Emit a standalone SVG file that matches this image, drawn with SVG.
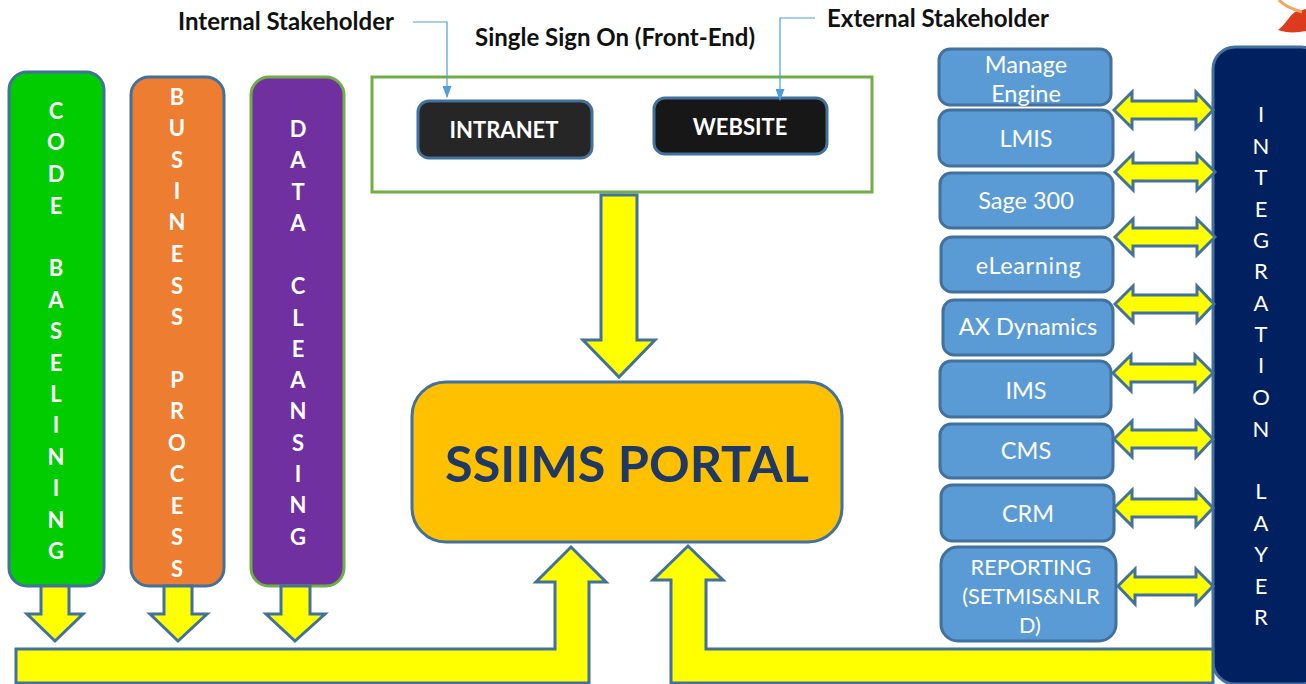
<svg xmlns="http://www.w3.org/2000/svg" width="1306" height="684" viewBox="0 0 1306 684">
<style>
text{font-family:Lato,"Liberation Sans",sans-serif;text-anchor:middle}
.v{font-size:22px;fill:#fff}
.vb{font-size:22px;fill:#fff;font-weight:700}
.n{stroke:#41719C;stroke-width:3}
.blue{fill:#5B9BD5}
.t{font-size:23.5px;fill:#fff}
.r{font-size:21.7px;fill:#fff}
.a{fill:#FFFF00;stroke:#41719C;stroke-width:3;stroke-linejoin:miter}
.s{font-size:24px;font-weight:700;fill:#111}
.l{fill:none;stroke:#4E9DE0;stroke-width:1.2}
.b{font-size:22px;font-weight:700;fill:#fff}
</style>
<defs><marker id="ah" markerWidth="12" markerHeight="9" refX="11" refY="4.5" orient="auto" markerUnits="userSpaceOnUse"><path d="M0 0L12 4.5L0 9z" fill="#4E9DE0"/></marker></defs>
<g id="flame"><path d="M1278 30C1285 25 1289 16 1295 12L1306 9V31C1296 33 1286 33 1278 30Z" fill="#DD3B1E"/><path d="M1279 0C1284 6 1292 9 1302 12" fill="none" stroke="#F4A460" stroke-width="3"/></g>
<g id="code-baselining"><rect class="n" x="9" y="72" width="95" height="514" rx="18" fill="#00CC00"/>
<g class="vb"><text x="56" y="119">C</text><text x="56" y="150">O</text><text x="56" y="182">D</text><text x="56" y="214">E</text><text x="56" y="276">B</text><text x="56" y="308">A</text><text x="56" y="339">S</text><text x="56" y="371">E</text><text x="56" y="402">L</text><text x="56" y="433">I</text><text x="56" y="465">N</text><text x="56" y="496">I</text><text x="56" y="528">N</text><text x="56" y="559">G</text></g></g>
<g id="business-process"><rect class="n" x="131" y="77" width="93" height="509" rx="18" fill="#ED7D31"/>
<g class="vb"><text x="177" y="105">B</text><text x="177" y="136">U</text><text x="177" y="168">S</text><text x="177" y="199">I</text><text x="177" y="230">N</text><text x="177" y="262">E</text><text x="177" y="294">S</text><text x="177" y="325">S</text><text x="177" y="388">P</text><text x="177" y="419">R</text><text x="177" y="451">O</text><text x="177" y="482">C</text><text x="177" y="514">E</text><text x="177" y="545">S</text><text x="177" y="577">S</text></g></g>
<g id="data-cleansing"><rect x="251" y="77" width="93" height="509" rx="18" fill="#7030A0" stroke="#70AD47" stroke-width="3"/>
<g class="vb"><text x="298" y="137">D</text><text x="298" y="168">A</text><text x="298" y="200">T</text><text x="298" y="231">A</text><text x="298" y="294">C</text><text x="298" y="326">L</text><text x="298" y="357">E</text><text x="298" y="388">A</text><text x="298" y="419">N</text><text x="298" y="451">S</text><text x="298" y="482">I</text><text x="298" y="513">N</text><text x="298" y="545">G</text></g></g>
<g id="labels"><text class="s" x="286" y="30">Internal Stakeholder</text><text class="s" x="615" y="46">Single Sign On (Front-End)</text><text class="s" x="938" y="27">External Stakeholder</text></g>
<g id="front-end"><rect x="372" y="77" width="500" height="115" fill="#fff" stroke="#70AD47" stroke-width="3"/></g>
<g id="intranet"><rect class="n" x="418" y="101" width="174" height="57" rx="11" fill="#262626"/><text class="b" x="504" y="138">INTRANET</text></g>
<g id="website"><rect class="n" x="654" y="98" width="173" height="56" rx="11" fill="#171717"/><text class="b" x="740" y="135">WEBSITE</text></g>
<g id="portal"><rect class="n" x="412" y="382" width="430" height="160" rx="34" fill="#FFC000"/><text x="627" y="482" font-size="50.4" font-weight="700" fill="#1F3864">SSIIMS PORTAL</text></g>
<g id="manage-engine"><rect class="n blue" x="939" y="49" width="172" height="56" rx="11"/><text class="t" x="1026" y="73">Manage</text><text class="t" x="1026" y="102">Engine</text></g>
<g id="lmis"><rect class="n blue" x="939" y="110" width="174" height="56" rx="11"/><text class="t" x="1026" y="147">LMIS</text></g>
<g id="sage"><rect class="n blue" x="940" y="173" width="173" height="55" rx="11"/><text class="t" x="1026" y="209">Sage 300</text></g>
<g id="elearning"><rect class="n blue" x="941" y="237" width="172" height="55" rx="11"/><text class="t" x="1028.500" y="274" letter-spacing=".6">eLearning</text></g>
<g id="ax"><rect class="n blue" x="943" y="300" width="170" height="55" rx="11"/><text class="t" x="1028" y="335">AX Dynamics</text></g>
<g id="ims"><rect class="n blue" x="940" y="361" width="171" height="56" rx="11"/><text class="t" x="1026" y="399">IMS</text></g>
<g id="cms"><rect class="n blue" x="940" y="424" width="173" height="54" rx="11"/><text class="t" x="1026" y="459">CMS</text></g>
<g id="crm"><rect class="n blue" x="941" y="485" width="173" height="56" rx="11"/><text class="t" x="1028" y="522">CRM</text></g>
<g id="reporting"><rect class="n blue" x="941" y="547" width="175" height="94" rx="17"/><text class="r" x="1031" y="575">REPORTING</text><text class="r" x="1031" y="604">(SETMIS&amp;NLR</text><text class="r" x="1030" y="633">D)</text></g>
<g id="integration-layer"><rect class="n" x="1213" y="47" width="110" height="637" rx="22" fill="#002060"/>
<g class="v"><text x="1261" y="122">I</text><text x="1261" y="154">N</text><text x="1261" y="185">T</text><text x="1261" y="217">E</text><text x="1261" y="248">G</text><text x="1261" y="279">R</text><text x="1261" y="311">A</text><text x="1261" y="342">T</text><text x="1261" y="373">I</text><text x="1261" y="405">O</text><text x="1261" y="437">N</text><text x="1261" y="499">L</text><text x="1261" y="531">A</text><text x="1261" y="562">Y</text><text x="1261" y="594">E</text><text x="1261" y="625">R</text></g></g>
<g id="connectors">
<path class="l" d="M413 22H447V97" marker-end="url(#ah)"/>
<path class="l" d="M815 18H780V100" marker-end="url(#ah)"/>
<path class="a" d="M41 586H69V614H83L55 641L27 614H41Z"/>
<path class="a" d="M164 586H192V614H207L178 641L150 614H164Z"/>
<path class="a" d="M281 586H310V614H325L295 641L266 614H281Z"/>
<path class="a" d="M601 195H637V340H655L619 377L583 340H601Z"/>
<path class="a" d="M16 649H555V582H536L571 547L606 582H589V683H16Z"/>
<path class="a" d="M671 683V580H653L688 546L723 580H706V649H1213V683Z"/>
<path class="a" d="M1114 110L1132 92V101H1196V92L1213 110L1196 128V119H1132V128Z"/>
<path class="a" d="M1115 172L1133 154V163H1197V154L1215 172L1197 190V181H1133V190Z"/>
<path class="a" d="M1115 237L1133 219V228H1197V219L1215 237L1197 255V246H1133V255Z"/>
<path class="a" d="M1115 304L1133 286V295H1197V286L1214 304L1197 322V313H1133V322Z"/>
<path class="a" d="M1113 373L1131 355V364H1195V355L1213 373L1195 391V382H1131V391Z"/>
<path class="a" d="M1114 439L1132 421V430H1196V421L1213 439L1196 457V448H1132V457Z"/>
<path class="a" d="M1114 508L1132 490V499H1196V490L1213 508L1196 526V517H1132V526Z"/>
<path class="a" d="M1118 586L1135 569V577H1196V569L1213 586L1196 604V595H1135V604Z"/>
</g>
</svg>
